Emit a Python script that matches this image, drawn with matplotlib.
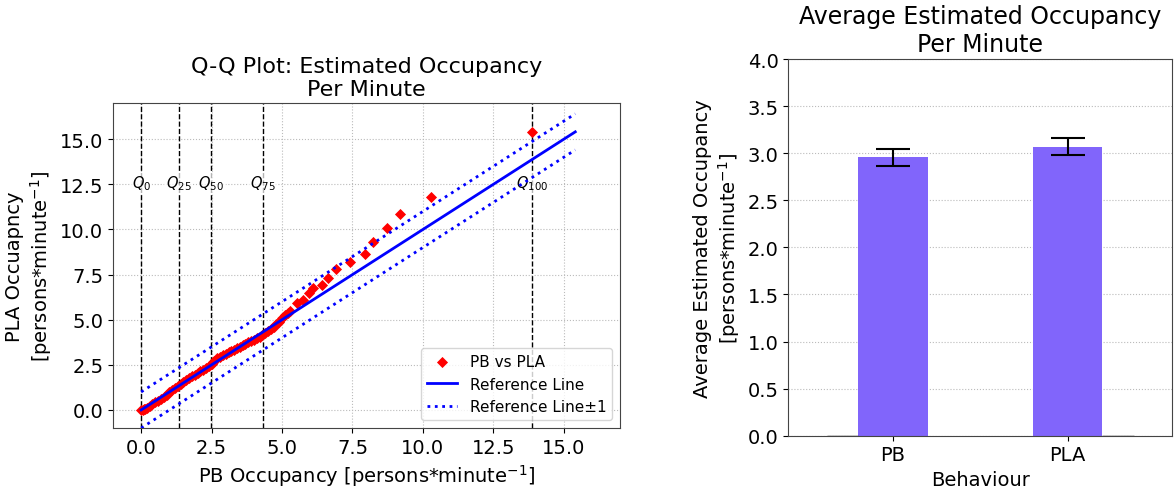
import numpy as np
import matplotlib.pyplot as plt

# Q-Q points (PB quantile, PLA quantile)
pb_q = [0.00, 0.05, 0.10, 0.15, 0.20, 0.30, 0.40, 0.50, 0.60, 0.70, 0.80, 0.90,
        1.00, 1.10, 1.20, 1.30, 1.40, 1.50, 1.60, 1.70, 1.80, 1.90, 2.00, 2.10,
        2.20, 2.30, 2.40, 2.50, 2.55, 2.60, 2.70, 2.80, 2.90, 3.00, 3.10, 3.20,
        3.30, 3.40, 3.50, 3.60, 3.70, 3.80, 3.90, 4.00, 4.10, 4.20, 4.30, 4.40,
        4.50, 4.60, 4.70, 4.80, 4.90, 5.00, 5.10, 5.20, 5.30,
        5.52, 5.75, 5.94, 6.11, 6.41, 6.63, 6.90, 7.40, 7.94, 8.22, 8.72, 9.18,
        10.28, 13.87]
pla_q = [0.00, 0.02, 0.05, 0.08, 0.12, 0.22, 0.32, 0.43, 0.52, 0.62, 0.72, 0.85,
         0.98, 1.10, 1.22, 1.33, 1.45, 1.55, 1.66, 1.76, 1.86, 1.96, 2.06, 2.15,
         2.24, 2.33, 2.42, 2.53, 2.66, 2.74, 2.86, 2.96, 3.04, 3.12, 3.20, 3.28,
         3.34, 3.42, 3.50, 3.58, 3.66, 3.74, 3.82, 3.90, 3.98, 4.06, 4.15, 4.25,
         4.35, 4.47, 4.60, 4.74, 4.90, 5.10, 5.25, 5.38, 5.51,
         5.92, 6.10, 6.47, 6.73, 6.92, 7.33, 7.81, 8.19, 8.64, 9.32, 10.06, 10.88,
         11.78, 15.41]

ref_range = [0.0, 15.41]
quantile_names = ['0', '25', '50', '75', '100']
quantile_pos = [0.0, 1.33, 2.49, 4.33, 13.87]

# bar chart data
behaviours = ['PB', 'PLA']
avg_occ = [2.96, 3.07]
avg_err = [0.09, 0.09]

fig = plt.figure(figsize=(11.75, 4.89), dpi=100)

# --- Q-Q plot ---
ax1 = fig.add_axes([0.0962, 0.1227, 0.4315, 0.6643])
ax1.grid(True, linestyle=':', color='#bbbbbb', linewidth=0.8)
ax1.set_axisbelow(True)
for q, name in zip(quantile_pos, quantile_names):
    ax1.axvline(q, color='black', linestyle='--', linewidth=1)
    ax1.text(q, 12.6, '$Q_{%s}$' % name, ha='center', va='center', fontsize=10.5,
             bbox=dict(facecolor='white', edgecolor='none', alpha=0.7, pad=1))
ax1.scatter(pb_q, pla_q, marker='D', color='red', s=32, linewidths=0,
            label='PB vs PLA', zorder=3)
ref = np.array(ref_range)
ax1.plot(ref, ref, color='blue', linewidth=2, label='Reference Line', zorder=4)
ax1.plot(ref, ref + 1, color='blue', linestyle=':', linewidth=2,
         label='Reference Line±1', zorder=4)
ax1.plot(ref, ref - 1, color='blue', linestyle=':', linewidth=2, zorder=4)
ax1.set_xlim(-1, 17)
ax1.set_ylim(-1, 17)
ax1.set_xticks(np.arange(0, 15.1, 2.5))
ax1.set_yticks(np.arange(0, 15.1, 2.5))
ax1.tick_params(labelsize=14)
ax1.set_xlabel('PB Occupancy [persons*minute$^{-1}$]', fontsize=14)
ax1.set_ylabel('PLA Occuapncy\n[persons*minute$^{-1}$]', fontsize=14)
ax1.set_title('Q-Q Plot: Estimated Occupancy\nPer Minute', fontsize=16)
ax1.legend(loc='lower right', fontsize=11)
for s in ax1.spines.values():
    s.set_color('#444444')

# --- bar chart ---
ax2 = fig.add_axes([0.6709, 0.107, 0.3268, 0.770])
ax2.grid(True, axis='y', linestyle=':', color='#bbbbbb', linewidth=0.8)
ax2.set_axisbelow(True)
x = np.arange(len(behaviours))
ax2.bar(x, avg_occ, width=0.4, color='#8165fb', yerr=avg_err, capsize=12,
        error_kw=dict(elinewidth=1.5, capthick=1.5))
# empty companion bars drawn at zero height
ax2.bar([-0.29, 1.29], [0, 0], width=0.18, edgecolor='black', linewidth=1)
ax2.set_xlim(-0.6, 1.6)
ax2.set_ylim(0, 4.0)
ax2.set_xticks(x)
ax2.set_xticklabels(behaviours)
ax2.tick_params(labelsize=14)
ax2.set_xlabel('Behaviour', fontsize=14)
ax2.set_ylabel('Average Estimated Occupancy\n[persons*minute$^{-1}$]', fontsize=14)
ax2.set_title('Average Estimated Occupancy\nPer Minute', fontsize=17)
for s in ax2.spines.values():
    s.set_color('#444444')

fig.savefig('out.png', dpi=100)
